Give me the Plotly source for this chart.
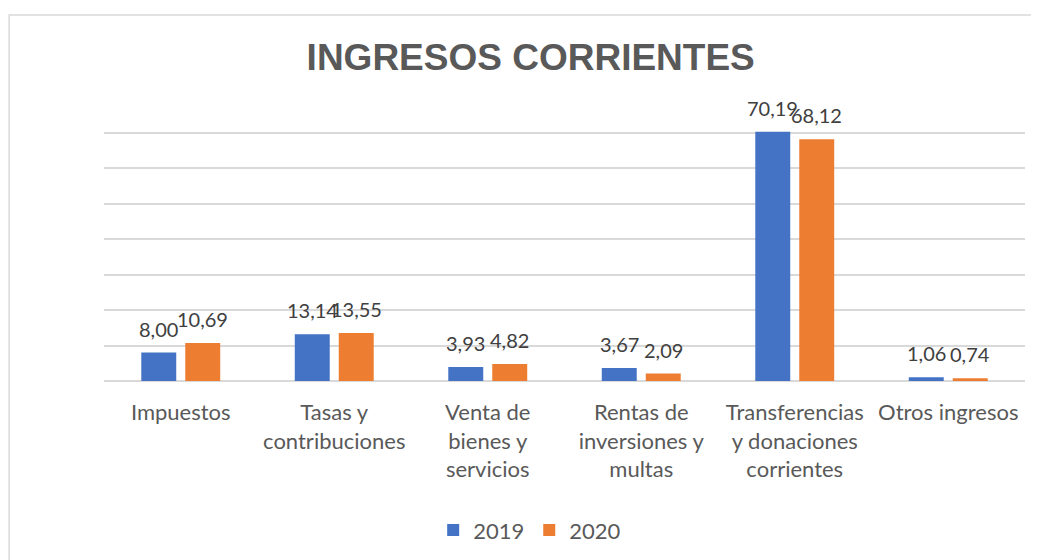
import plotly.graph_objects as go

CATEGORIES = [
    "Impuestos",
    "Tasas y<br>contribuciones",
    "Venta de<br>bienes y<br>servicios",
    "Rentas de<br>inversiones y<br>multas",
    "Transferencias<br>y donaciones<br>corrientes",
    "Otros ingresos",
]
VALUES_2019 = [8.00, 13.14, 3.93, 3.67, 70.19, 1.06]
VALUES_2020 = [10.69, 13.55, 4.82, 2.09, 68.12, 0.74]

SERIES = {"2019": (VALUES_2019, "#4472C4"), "2020": (VALUES_2020, "#ED7D31")}

FONT = "Lato, 'Open Sans', sans-serif"
GREY = "#595959"

# the page body adds an 8px offset, so the figure is drawn 8px smaller
fig = go.Figure()
for name, (values, color) in SERIES.items():
    fig.add_trace(
        go.Bar(
            x=CATEGORIES,
            y=values,
            name=name,
            marker={"color": color, "line": {"width": 0}},
        )
    )

# data labels, lifted a little above the bars like Excel does
for shift, (values, _) in zip([-22, 22], SERIES.values()):
    for cat, val in zip(CATEGORIES, values):
        fig.add_annotation(
            x=cat,
            y=val,
            text=f"{val:.2f}".replace(".", ","),
            showarrow=False,
            xshift=shift,
            yshift=10,
            yanchor="bottom",
            font={"family": FONT, "size": 20, "color": "#404040"},
        )

fig.update_layout(
    width=1031,
    height=552,
    margin={"l": 96, "r": 14, "t": 89, "b": 179},
    paper_bgcolor="white",
    plot_bgcolor="white",
    barmode="group",
    bargap=0.427,
    bargroupgap=0.205,
    title={
        "text": "<b>INGRESOS CORRIENTES</b>",
        "x": 0.507,
        "xref": "container",
        "xanchor": "center",
        "y": 0.911,
        "yref": "container",
        "yanchor": "middle",
        "font": {"family": "'Liberation Sans', Arial, sans-serif", "size": 37, "color": GREY},
    },
    legend={
        "orientation": "h",
        "x": 0.506,
        "xref": "container",
        "xanchor": "center",
        "y": 0.054,
        "yref": "container",
        "yanchor": "middle",
        "font": {"family": FONT, "size": 22, "color": GREY},
    },
    font={"family": FONT, "color": GREY},
    shapes=[
        {
            "type": "rect",
            "xref": "paper",
            "yref": "paper",
            "x0": -0.103,
            "x1": 1.2,
            "y0": -1.0,
            "y1": 1.289,
            "line": {"color": "#d9d9d9", "width": 1.5},
            "fillcolor": "rgba(0,0,0,0)",
            "layer": "below",
        }
    ],
)

fig.update_xaxes(
    showline=False,
    ticks="",
    ticklabelstandoff=16,
    tickfont={"family": FONT, "size": 22, "color": GREY},
)
fig.update_yaxes(
    range=[0, 80],
    dtick=10,
    showticklabels=False,
    gridcolor="#d9d9d9",
    gridwidth=1.5,
    zeroline=True,
    zerolinecolor="#d9d9d9",
    zerolinewidth=1.5,
)

fig.write_html("out.html")
